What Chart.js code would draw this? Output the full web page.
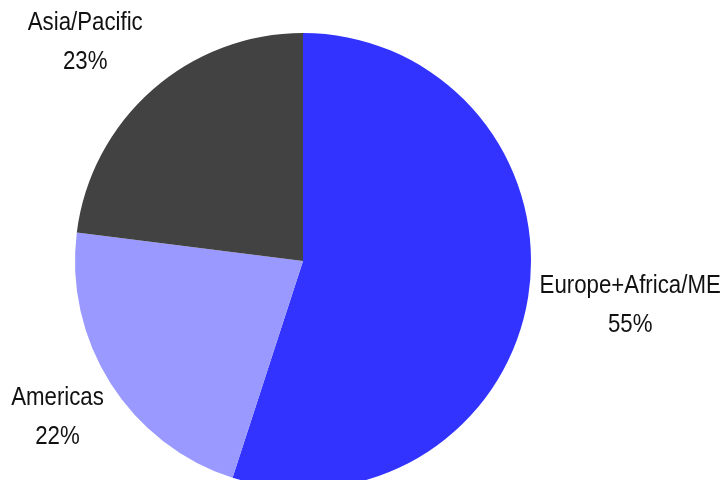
<!DOCTYPE html>
<html>
<head>
<meta charset="utf-8">
<script src="https://cdn.jsdelivr.net/npm/chart.js@4/dist/chart.umd.min.js"></script>
<style>
  html, body { margin: 0; padding: 0; background: #fff; overflow: hidden; }
  #wrap { width: 724px; height: 500px; position: relative; }
</style>
</head>
<body>
<div id="wrap"><canvas id="pieChart"></canvas></div>
<script>
const regions = ['Europe+Africa/ME', 'Americas', 'Asia/Pacific'];
const shares = [55, 22, 23];
const sliceColors = ['#3333FF', '#9999FF', '#424242'];

// shift of each label from the pie edge at the slice's middle angle
const labelShift = [[102, 8], [-53, 34], [-67, -48]];

const outsideLabels = {
    id: 'outsideLabels',
    afterDatasetsDraw(chart) {
        const ctx = chart.ctx;
        const meta = chart.getDatasetMeta(0);
        meta.data.forEach(function(arc, i) {
            const p = arc.getProps(['x', 'y', 'startAngle', 'endAngle', 'outerRadius'], true);
            const mid = (p.startAngle + p.endAngle) / 2;
            const x = p.x + Math.cos(mid) * p.outerRadius + labelShift[i][0];
            const y = p.y + Math.sin(mid) * p.outerRadius + labelShift[i][1];
            ctx.save();
            ctx.translate(x, y);
            ctx.scale(0.89, 1);   // condensed look of the original font
            ctx.font = '25px "Liberation Sans", Arial, sans-serif';
            ctx.fillStyle = '#111';
            ctx.textAlign = 'center';
            ctx.textBaseline = 'middle';
            ctx.fillText(regions[i], 0, -19);
            ctx.fillText(shares[i] + '%', 0, 20);
            ctx.restore();
        });
    }
};

const ctx = document.getElementById('pieChart').getContext('2d');
new Chart(ctx, {
    type: 'pie',
    data: {
        labels: regions,
        datasets: [{
            data: shares,
            backgroundColor: sliceColors,
            borderWidth: 0
        }]
    },
    options: {
        responsive: true,
        maintainAspectRatio: false,
        animation: false,
        layout: { padding: { left: 75, right: 193, top: 33, bottom: 11 } },
        plugins: {
            legend: { display: false },
            tooltip: { enabled: false }
        }
    },
    plugins: [outsideLabels]
});
</script>
</body>
</html>
